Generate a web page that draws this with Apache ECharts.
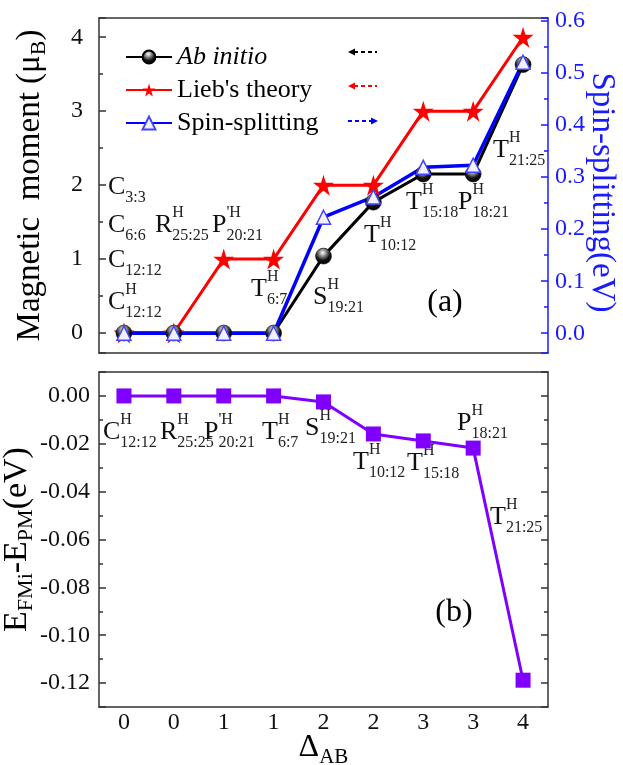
<!DOCTYPE html>
<html>
<head>
<meta charset="utf-8">
<script src="https://cdn.jsdelivr.net/npm/echarts@6/dist/echarts.min.js"></script>
<style>
html,body{margin:0;padding:0;background:#fff;}
#main{width:623px;height:765px;}
</style>
</head>
<body>
<div id="main"></div>
<script>
// structures on the x axis and their Delta_AB values
var structures = ['C12:12H', 'R25:25H', "P'20:21H", 'T6:7H', 'S19:21H', 'T10:12H', 'T15:18H', 'P18:21H', 'T21:25H'];
var deltaAB = ['0', '0', '1', '1', '2', '2', '3', '3', '4'];

// panel (a)
var abInitio = [0, 0, 0, 0, 1.04, 1.77, 2.15, 2.15, 3.63];
var liebTheory = [0, 0, 1, 1, 2, 2, 3, 3, 4];
var spinSplitting = [0, 0, 0, 0, 0.223, 0.262, 0.319, 0.323, 0.521];

// panel (b)
var energyDiff = [0, 0, 0, 0, -0.0025, -0.0159, -0.0188, -0.0218, -0.1188];

var serif = '"Liberation Serif", "Times New Roman", serif';
var axisColor = '#333';
var blue = '#1a1aff';

// text notes: [base, sup, sub, x, y]
var notesA = [
	['C', '', '3:3', 108, 187],
	['C', '', '6:6', 108, 225],
	['R', 'H', '25:25', 155, 225],
	["P", "'H", '20:21', 212, 225],
	['C', '', '12:12', 108, 260],
	['C', 'H', '12:12', 108, 302],
	['T', 'H', '6:7', 251, 289],
	['S', 'H', '19:21', 313, 297],
	['T', 'H', '10:12', 364, 235],
	['T', 'H', '15:18', 406, 202],
	['P', 'H', '18:21', 458, 202],
	['T', 'H', '21:25', 493, 150]
];
var notesB = [
	['C', 'H', '12:12', 103, 432],
	['R', 'H', '25:25', 160, 432],
	["P", "'H", '20:21', 204, 432],
	['T', 'H', '6:7', 262, 432],
	['S', 'H', '19:21', 305, 428],
	['T', 'H', '10:12', 353, 462],
	['T', 'H', '15:18', 407, 463],
	['P', 'H', '18:21', 457, 423],
	['T', 'H', '21:25', 490, 517]
];

var ctx = document.createElement('canvas').getContext('2d');
function textWidth(t, size) {
	ctx.font = size + 'px ' + serif;
	return ctx.measureText(t).width;
}

function noteGraphic(n) {
	var w = textWidth(n[0], 26);
	var items = [{
		type: 'text', x: n[3], y: n[4], silent: true,
		style: {text: n[0], font: '26px ' + serif, fill: '#111', align: 'left', verticalAlign: 'middle'}
	}];
	if (n[1]) {
		items.push({
			type: 'text', x: n[3] + w, y: n[4] - 12, silent: true,
			style: {text: n[1], font: '16px ' + serif, fill: '#222', align: 'left', verticalAlign: 'middle'}
		});
	}
	if (n[2]) {
		items.push({
			type: 'text', x: n[3] + w, y: n[4] + 11, silent: true,
			style: {text: n[2], font: '16px ' + serif, fill: '#222', align: 'left', verticalAlign: 'middle'}
		});
	}
	return items;
}

// dashed arrow showing which axis a series belongs to
function arrow(x1, x2, y, color, toRight) {
	var head = toRight ? x2 : x1;
	var d = toRight ? -7 : 7;
	return [{
		type: 'line', silent: true,
		shape: {x1: toRight ? x1 : x1 + 6, y1: y, x2: toRight ? x2 - 6 : x2, y2: y},
		style: {stroke: color, lineWidth: 2, lineDash: [4, 3]}
	}, {
		type: 'polygon', silent: true,
		shape: {points: [[head, y], [head + d, y - 3.5], [head + d, y + 3.5]]},
		style: {fill: color}
	}];
}

var graphics = [];
notesA.concat(notesB).forEach(function (n) {
	graphics = graphics.concat(noteGraphic(n));
});
graphics = graphics.concat(arrow(348, 377, 52, '#000', false));
graphics = graphics.concat(arrow(348, 377, 86, '#f00', false));
graphics = graphics.concat(arrow(348, 378, 121, '#00f', true));
graphics.push({type: 'text', x: 445, y: 303, silent: true,
	style: {text: '(a)', font: '32px ' + serif, fill: '#000', align: 'center', verticalAlign: 'middle'}});
graphics.push({type: 'text', x: 454, y: 613, silent: true,
	style: {text: '(b)', font: '32px ' + serif, fill: '#000', align: 'center', verticalAlign: 'middle'}});

function catAxis(grid, pos, labels) {
	return {
		gridIndex: grid, type: 'category', position: pos, data: structures,
		boundaryGap: true,
		axisLine: {onZero: false, lineStyle: {color: axisColor, width: 1.5}},
		axisTick: {inside: true, alignWithLabel: true, length: 7, lineStyle: {color: axisColor, width: 1.5}},
		axisLabel: labels ? {
			show: true, margin: 4, fontFamily: serif, fontSize: 24, color: '#111',
			formatter: function (v, i) { return deltaAB[i]; }
		} : {show: false},
		splitLine: {show: false}
	};
}

function valAxis(grid, pos, min, max, step, color, labels) {
	return {
		gridIndex: grid, type: 'value', position: pos, min: min, max: max,
		minInterval: step, maxInterval: step,
		nameMoveOverlap: false,
		axisLine: {show: true, onZero: false, lineStyle: {color: color, width: 1.5}},
		axisTick: {show: true, inside: true, length: 7, lineStyle: {color: color, width: 1.5}},
		minorTick: {show: true, splitNumber: 2, length: 4, lineStyle: {color: color, width: 1.5}},
		splitLine: {show: false},
		axisLabel: labels || {show: false}
	};
}

function subRich(size) {
	return {s: {fontFamily: serif, fontSize: size, lineHeight: 18, verticalAlign: 'bottom'}};
}

var yA = valAxis(0, 'left', -0.27, 4.26, 1, axisColor, {
	fontFamily: serif, fontSize: 24, color: '#111', margin: 16, showMinLabel: false, showMaxLabel: false
});
yA.name = 'Magnetic  moment (\u03bc{s|B})';
yA.nameLocation = 'middle';
yA.nameGap = 49;
yA.nameTextStyle = {fontFamily: serif, fontSize: 33, lineHeight: 40, color: '#000', rich: subRich(22)};

var yS = valAxis(0, 'right', -0.038, 0.606, 0.1, blue, {
	fontFamily: serif, fontSize: 24, color: blue, margin: 7, showMinLabel: false, showMaxLabel: false,
	formatter: function (v) { return v.toFixed(1); }
});
yS.name = 'Spin-splitting(eV)';
yS.nameLocation = 'middle';
yS.nameRotate = -90;
yS.nameGap = 34;
yS.nameTextStyle = {fontFamily: serif, fontSize: 33, lineHeight: 40, color: blue, padding: [0, 0, 0, 14]};

var yE = valAxis(1, 'left', -0.13, 0.01, 0.02, axisColor, {
	fontFamily: serif, fontSize: 24, color: '#111', margin: 9, showMinLabel: false, showMaxLabel: false,
	formatter: function (v) { return v.toFixed(2); }
});
yE.name = 'E{s|FMi}-E{s|PM}(eV)';
yE.nameLocation = 'middle';
yE.nameGap = 62;
yE.nameTextStyle = {fontFamily: serif, fontSize: 34, lineHeight: 40, color: '#000', rich: subRich(22)};

var yE2 = valAxis(1, 'right', -0.13, 0.01, 0.02, axisColor, null);

var xB = catAxis(1, 'bottom', true);
xB.name = '\u0394{s|AB}';
xB.nameLocation = 'middle';
xB.nameGap = 21;
xB.nameMoveOverlap = false;
xB.nameTextStyle = {fontFamily: serif, fontSize: 32, lineHeight: 40, color: '#000', rich: subRich(21)};

var sphere = {
	type: 'radial', x: 0.45, y: 0.3, r: 0.75,
	colorStops: [{offset: 0, color: '#fff'}, {offset: 0.25, color: '#999'}, {offset: 0.6, color: '#111'}, {offset: 1, color: '#000'}]
};
var star = 'path://M50,0 L61,35 L98,35 L68,57 L79,91 L50,70 L21,91 L32,57 L2,35 L39,35 Z';

var myChart = echarts.init(document.getElementById('main'));
var option = {
	animation: false,
	backgroundColor: '#fff',
	grid: [
		{left: 99, top: 18, width: 449, height: 335, outerBoundsMode: 'none', containLabel: false},
		{left: 99, top: 372, width: 449, height: 335, outerBoundsMode: 'none', containLabel: false}
	],
	legend: {
		data: ['Ab initio', "Lieb's theory", 'Spin-splitting'],
		orient: 'vertical', left: 120, top: 37,
		itemWidth: 46, itemHeight: 16, itemGap: 3,
		textStyle: {fontFamily: serif, fontSize: 26, lineHeight: 30, color: '#000',
			rich: {i: {fontFamily: serif, fontSize: 26, fontStyle: 'italic', color: '#000'}}},
		formatter: function (name) {
			return name === 'Ab initio' ? '{i|' + name + '}' : name;
		}
	},
	xAxis: [catAxis(0, 'bottom', false), catAxis(0, 'top', false), xB, catAxis(1, 'top', false)],
	yAxis: [yA, yS, yE, yE2],
	series: [
		{
			name: "Lieb's theory", type: 'line', xAxisIndex: 0, yAxisIndex: 0, data: liebTheory,
			symbol: star, symbolSize: 21,
			lineStyle: {color: '#f00', width: 3}, itemStyle: {color: '#f00'}
		},
		{
			name: 'Ab initio', type: 'line', xAxisIndex: 0, yAxisIndex: 0, data: abInitio,
			symbol: 'circle', symbolSize: 16,
			lineStyle: {color: '#000', width: 3}, itemStyle: {color: sphere, borderColor: '#000', borderWidth: 0.5}
		},
		{
			name: 'Spin-splitting', type: 'line', xAxisIndex: 0, yAxisIndex: 1, data: spinSplitting,
			symbol: 'triangle', symbolSize: 14,
			lineStyle: {color: '#00f', width: 3.5}, itemStyle: {color: '#f2f2ff', borderColor: '#44f', borderWidth: 1.5}
		},
		{
			name: 'E', type: 'line', xAxisIndex: 2, yAxisIndex: 2, data: energyDiff,
			symbol: 'rect', symbolSize: 15,
			lineStyle: {color: '#7f00ff', width: 3}, itemStyle: {color: '#7f00ff'}
		}
	],
	graphic: graphics
};
myChart.setOption(option, true);
</script>
</body>
</html>
